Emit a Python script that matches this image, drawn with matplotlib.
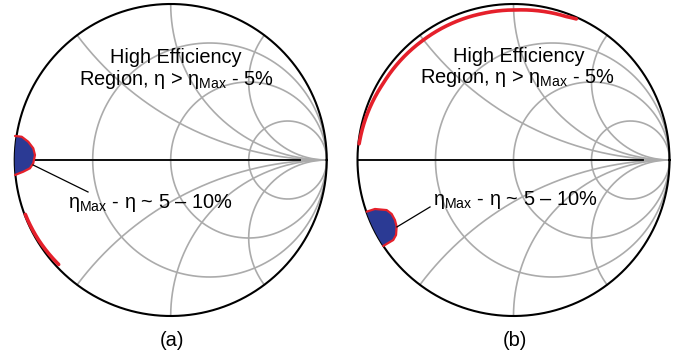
import numpy as np
import matplotlib.pyplot as plt

plt.rcParams['font.family'] = ['Liberation Sans', 'DejaVu Sans']
plt.rcParams['mathtext.fontset'] = 'custom'
plt.rcParams['mathtext.rm'] = 'Liberation Sans'

# Smith chart grid values
r_circles = [1/3, 1, 3]
x_arcs = [0.5, 1, 2]

panel_labels = ['(a)', '(b)']

# boundary of the 5-10% region (reflection coefficient plane)
blob_a_x = [-0.998, -0.955, -0.913, -0.881, -0.870, -0.881, -0.902, -0.945, -0.998]
blob_a_y = [0.154, 0.149, 0.117, 0.075, 0.032, -0.021, -0.053, -0.075, -0.096]
blob_b_x = [-0.941, -0.888, -0.813, -0.781, -0.760, -0.749, -0.753, -0.771, -0.813, -0.835]
blob_b_y = [-0.331, -0.314, -0.321, -0.346, -0.385, -0.428, -0.481, -0.513, -0.538, -0.551]

# high-efficiency contour near the edge: angle (deg) and |gamma|
red_a_ang = [200.5, 211.0, 223.0]
red_a_rad = [0.995, 0.99, 0.982]
red_b_ang = [174.0, 149.5, 126.9, 101.7, 88.8, 69.6, 66.0]
red_b_rad = [0.995, 0.969, 0.962, 0.960, 0.962, 0.980, 0.99]

blobs = [(blob_a_x, blob_a_y), (blob_b_x, blob_b_y)]
reds = [(red_a_ang, red_a_rad), (red_b_ang, red_b_rad)]

# annotation text and leader line per panel
label_xy = [(-0.133, -0.31), (0.01, -0.289)]
leader = [((-0.882, -0.032), (-0.530, -0.205)), ((-0.747, -0.429), (-0.535, -0.301))]
title_x = [(0.034, 0.034), (0.032, 0.026)]
title_y = [(0.622, 0.481), (0.628, 0.494)]

GRID = '#ababab'
BLUE = '#2b3a94'
RED = '#e5202b'

W, H = 681, 354
R_PX = 156
centers = [(170.7, 160), (513.5, 160)]
LIM = 1.06

fig = plt.figure(figsize=(W / 100, H / 100), dpi=100)

t = np.linspace(0, 2 * np.pi, 500)
rr = np.concatenate([[0], np.geomspace(1e-3, 1e4, 800)])

for i, (cx, cy) in enumerate(centers):
    side = 2 * LIM * R_PX
    ax = fig.add_axes([(cx - LIM * R_PX) / W, (H - cy - LIM * R_PX) / H, side / W, side / H])
    ax.set_xlim(-LIM, LIM)
    ax.set_ylim(-LIM, LIM)
    ax.set_aspect('equal')
    ax.axis('off')

    # constant resistance circles
    for r in r_circles:
        c = r / (1 + r)
        rad = 1 / (1 + r)
        ax.plot(c + rad * np.cos(t), rad * np.sin(t), color=GRID, lw=1.2, zorder=1)
    # constant reactance arcs
    for x in x_arcs:
        for s in (1, -1):
            z = rr + 1j * s * x
            g = (z - 1) / (z + 1)
            ax.plot(g.real, g.imag, color=GRID, lw=1.2, zorder=1)
    ax.plot([-1, 1], [0, 0], color=GRID, lw=1.2, zorder=1)
    ax.plot([-1, 0.83], [0, 0], color='black', lw=1.3, zorder=2)
    ax.plot(np.cos(t), np.sin(t), color='black', lw=1.5, zorder=2)

    # 5-10% region, closed along the unit circle
    bx, by = blobs[i]
    a0 = np.arctan2(by[-1], bx[-1]) % (2 * np.pi)
    a1 = np.arctan2(by[0], bx[0]) % (2 * np.pi)
    th = np.linspace(a0, a1, 30)
    px = np.concatenate([bx, np.cos(th)])
    py = np.concatenate([by, np.sin(th)])
    ax.fill(px, py, color=BLUE, lw=0, zorder=3)
    ax.plot(bx, by, color=RED, lw=1.6, zorder=4, solid_capstyle='round')

    # high efficiency contour
    ang, rad = reds[i]
    order = np.argsort(ang)
    th = np.linspace(min(ang), max(ang), 200)
    rad_s = np.interp(th, np.array(ang)[order], np.array(rad)[order])
    ax.plot(rad_s * np.cos(np.radians(th)), rad_s * np.sin(np.radians(th)),
            color=RED, lw=2.6, zorder=4, solid_capstyle='round')

    # labels
    ax.text(title_x[i][0], title_y[i][0], 'High Efficiency', ha='center', va='baseline',
            fontsize=14.4, zorder=5)
    ax.text(title_x[i][1], title_y[i][1], r'Region, η > η$_{\mathrm{Max}}$ - 5%',
            ha='center', va='baseline', fontsize=14.4, zorder=5)
    ax.text(label_xy[i][0], label_xy[i][1], r'η$_{\mathrm{Max}}$ - η ~ 5 – 10%',
            ha='center', va='baseline', fontsize=14.4, zorder=5)
    (x0, y0), (x1, y1) = leader[i]
    ax.plot([x0, x1], [y0, y1], color='black', lw=0.9, zorder=5)

    ax.text(0.01, -1.19, panel_labels[i], ha='center', va='baseline', fontsize=14.4,
            clip_on=False)

fig.savefig('out.png', dpi=100)
